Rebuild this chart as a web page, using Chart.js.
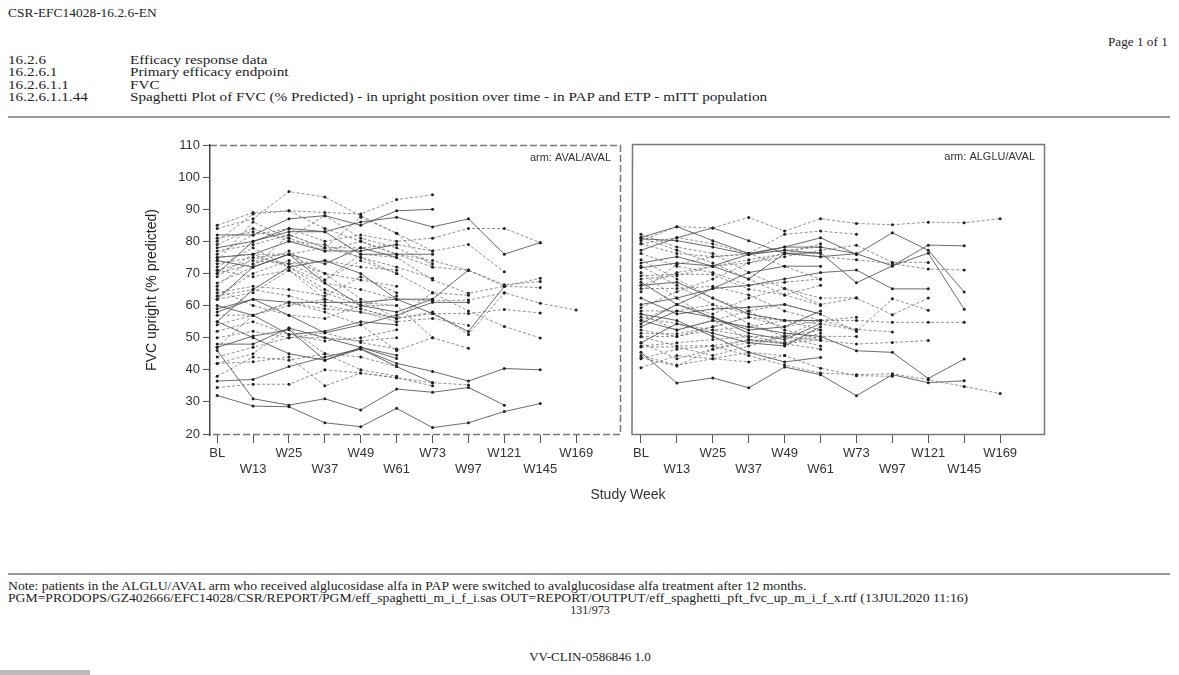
<!DOCTYPE html>
<html>
<head>
<meta charset="utf-8">
<script src="https://cdn.jsdelivr.net/npm/chart.js@4.4.1/dist/chart.umd.min.js"></script>
<style>
  body { margin: 0; background: #fff; width: 1179px; height: 675px; position: relative; overflow: hidden; }
  .t { position: absolute; font-family: "Liberation Serif", "Times New Roman", serif; font-size: 12px; color: #222; white-space: nowrap; transform-origin: left center; line-height: 12px; }
  .h { font-size: 13px; transform: scaleX(1.17); }
  .f { font-size: 12px; transform: scaleX(1.14); }
  .hr { position: absolute; left: 8px; width: 1162px; height: 2px; background: #999; }
  canvas { position: absolute; }
</style>
</head>
<body>
<div class="t" style="left:8px;top:7px;transform:scaleX(1.12)">CSR-EFC14028-16.2.6-EN</div>
<div class="t" style="left:1108px;top:36px;transform:scaleX(1.1)">Page 1 of 1</div>
<div class="t h" style="left:8px;top:54px">16.2.6</div>
<div class="t h" style="left:130px;top:54px">Efficacy response data</div>
<div class="t h" style="left:8px;top:66px">16.2.6.1</div>
<div class="t h" style="left:130px;top:66px">Primary efficacy endpoint</div>
<div class="t h" style="left:8px;top:79px">16.2.6.1.1</div>
<div class="t h" style="left:130px;top:79px">FVC</div>
<div class="t h" style="left:8px;top:91px">16.2.6.1.1.44</div>
<div class="t h" style="left:130px;top:91px">Spaghetti Plot of FVC (% Predicted) - in upright position over time - in PAP and ETP - mITT population</div>
<div class="hr" style="top:116px"></div>

<canvas id="leftChart" style="left:130px;top:130px" width="500" height="360"></canvas>
<canvas id="rightChart" style="left:625px;top:130px" width="430" height="360"></canvas>
<div style="position:absolute;left:578px;top:486px;width:100px;text-align:center;font-family:'Liberation Sans',Arial,sans-serif;font-size:14px;color:#333">Study Week</div>

<div class="hr" style="top:573px"></div>
<div class="t f" style="left:8px;top:580px">Note: patients in the ALGLU/AVAL arm who received alglucosidase alfa in PAP were switched to avalglucosidase alfa treatment after 12 months.</div>
<div class="t f" style="left:8px;top:592px">PGM=PRODOPS/GZ402666/EFC14028/CSR/REPORT/PGM/eff_spaghetti_m_i_f_i.sas OUT=REPORT/OUTPUT/eff_spaghetti_pft_fvc_up_m_i_f_x.rtf (13JUL2020 11:16)</div>
<div class="t" style="left:540px;top:604px;width:100px;text-align:center;font-size:12px">131/973</div>
<div class="t" style="left:490px;top:651px;width:200px;text-align:center;font-size:13px">VV-CLIN-0586846 1.0</div>
<div style="position:absolute;left:0;top:670px;width:90px;height:5px;background:#bbb"></div>

<script>
var weekLabels = ['BL', 'W13', 'W25', 'W37', 'W49', 'W61', 'W73', 'W97', 'W121', 'W145', 'W169'];
var yTicks = [20, 30, 40, 50, 60, 70, 80, 90, 100, 110];

// FVC upright (% predicted) per patient, one value per study week (null = no visit)
var avalAvalSeries = [
  [85, 89, 89.5, 84, 80, 76, 72],
  [78, 80, 83, 83, 86, 87.5, 84.5, 87, 76, 79.6],
  [76, 82, 84, 80, 82, 80, 81, 84, 84, 79.6],
  [75, 76, 76, 78, 87.5, 82.5, 72, 71, 66, 68.5],
  [36.5, 37, 41, 44, 46.5, 42, 39.5, 36.5, 40.4, 40],
  [74, 86, 81, 77, 80, 76, 74, 71, 66.5, 67.5],
  [73, 75, 73, 68, 76, 75, 68, 63.8, 66, 65.6],
  [32, 28.7, 28.5, 23.5, 22.3, 28, 22, 23.5, 27, 29.5],
  [72, 78, 72, 67, 65, 62, 61.5, 61.7, 64, 60.7, 58.6],
  [71, 69, 71, 62, 59, 56, 57.5, 57.5, 58.8, 57.7],
  [46, 31, 29, 31, 27.5, 34, 33, 34.5, 29],
  [70, 73, 77, 68, 74, 70, 64, 58.3, 53.5, 49.9],
  [77, 79, 82, 78, 78, 79, 77, 79, 70.5],
  [55, 65, 72, 74, 70, 62, 57.5, 51.9, 66],
  [84, 87, 95.5, 93.8, 88, 82.5, 77],
  [80, 88.5, 89.5, 89, 88.5, 93, 94.5],
  [82, 82, 87, 88, 85, 89.5, 90],
  [34.5, 35.5, 35.5, 40, 39, 37.5, 36, 35.3],
  [42, 42.5, 44, 35, 39, 37.5, 35],
  [47, 50.5, 52.5, 43, 46.5, 41, 36],
  [66, 75, 76, 70, 62, 56, 58, 51, 63.9],
  [63, 65, 63, 60, 58, 55, 56, 53.8],
  [62, 72, 76, 67, 60, 58, 62, 71.1],
  [69, 76, 72, 65, 61, 60, 50, 46.7],
  [57, 57, 60, 62, 59, 56, 64, 63.2],
  [59, 62, 57, 51.5, 54, 57, 61, 61],
  [54, 57, 61, 58, 54, 46, 50],
  [50, 52, 50, 50, 49, 50],
  [48, 48, 53, 50, 47, 44.5],
  [44, 47, 50, 51.5, 48.5, 46.5],
  [52, 55, 51, 49, 50, 52.5],
  [58, 62, 61, 61, 61, 62, 62],
  [64, 66, 65, 63, 69, 64],
  [67, 72, 82, 78, 75, 72, 68.5],
  [70, 80, 84, 83, 76, 76, 76],
  [79, 84, 80, 79, 75, 70],
  [81, 83, 81, 88, 81, 78, 73],
  [74, 72, 76, 73, 78, 75],
  [65, 60, 57, 56, 60, 63],
  [62, 64, 71, 64, 60, 60],
  [55, 50, 45, 43, 47, 43.5],
  [42, 45, 53, 45, 40, 38],
  [38, 44, 43, 45, 44, 41],
  [60, 57, 51, 52, 55, 54],
  [47, 57, 61, 59, 58, 56],
  [63, 70, 74, 70, 68, 66],
  [75, 76, 80, 77, 77, 79],
  [71, 74, 73, 74, 72, 71]
];

var alguAvalSeries = [
  [80, 84.4, 84, 87.3, 83, 86.9, 85.4, 85, 85.8, 85.6, 86.9],
  [81, 84.4, 80, 76, 78, 80.9, 75.7, 82.5, 77, 63.9],
  [66, 70, 72, 74, 76, 75, 74, 72.8, 71.1, 70.8],
  [68, 69, 72, 73, 75, 77, 78.6, 73.2, 73.2],
  [80.6, 80, 78, 75.7, 78, 78, 75.9, 72.1, 76.1, 58.5],
  [52, 50, 53, 56, 53, 55, 55, 54.4, 54.4, 54.4],
  [50, 50, 52, 53, 55, 55, 52.2, 51.4],
  [73, 75, 72, 68, 76, 76.2, 66.8, 72.1, 78.6, 78.4],
  [47, 48, 49, 50, 50, 48.7, 47.6, 48.1, 48.7],
  [43, 46, 47, 44, 41, 38.5, 38, 38.3, 36.4, 34.3, 32.1],
  [60, 62, 65, 66, 68, 70, 70.8, 64.9, 64.9],
  [44, 41, 43, 45, 44, 40, 37.7, 37.5],
  [57, 52, 55, 58, 60, 57, 51.5, 61.8, 58.2],
  [55, 52, 55, 53, 51, 50, 45.5, 45, 36.8, 42.9],
  [55, 60, 57, 62, 65, 60, 62, 56.8, 62],
  [82, 78, 76, 70, 65, 62, 62.1],
  [45, 35.4, 37, 33.9, 40.4, 38, 31.4, 38, 35.5, 36.1],
  [79, 76, 75, 76, 82, 83, 82],
  [76, 72, 70, 66, 67, 68],
  [71.5, 73, 72.1, 75.7, 77, 76],
  [69, 69.5, 69.4, 64.8, 63, 66],
  [65, 65, 65.7, 63, 58, 55, 56],
  [62, 57, 58.6, 59.1, 60, 57],
  [58, 58, 60, 57, 55, 54, 52],
  [56, 54, 52, 50, 48, 50, 50],
  [53, 58, 56, 51, 49, 54],
  [49.9, 47, 47.1, 48.9, 47.7, 49],
  [46.7, 46.7, 44, 47, 50, 52],
  [48, 54, 51, 48, 47, 53],
  [40.2, 44, 43, 42, 44],
  [43.3, 40.7, 46, 48, 50, 55],
  [77, 80.9, 84, 80, 76, 75, 75.9],
  [74, 68, 62, 58, 52, 49],
  [70, 62, 55, 49, 47.7, 46],
  [67, 60, 56, 52, 53, 58],
  [64, 72.6, 75, 75.7, 77, 78],
  [59, 64, 68, 73, 76, 79],
  [54, 60, 65, 70, 72, 72],
  [51, 50.8, 53, 56, 55, 52],
  [48, 43, 46, 49, 48, 51],
  [57, 55, 50, 45, 42, 43.4],
  [81, 77, 73, 68, 63, 59.7],
  [79, 81, 79, 76, 72, 67.9],
  [66, 67, 62, 57, 55, 55],
  [72, 66, 60, 54, 50, 47]
];

var sansFont = "'Liberation Sans', Arial, sans-serif";

function makeDatasets(series) {
  return series.map(function (vals, i) {
    var pts = [];
    vals.forEach(function (v, k) { if (v != null) pts.push({ x: k, y: v }); });
    var solid = i % 3 === 1;
    return {
      data: pts,
      borderColor: solid ? 'rgba(70,70,70,0.8)' : 'rgba(100,100,100,0.7)',
      borderWidth: 1,
      borderDash: solid ? [] : [3, 2],
      pointRadius: 1.5,
      pointBackgroundColor: '#222',
      pointBorderWidth: 0,
      tension: 0
    };
  });
}

var framePlugin = {
  id: 'frame',
  afterDatasetsDraw: function (chart, args, opts) {
    var ctx = chart.ctx, a = chart.chartArea;
    ctx.save();
    ctx.strokeStyle = opts.color;
    ctx.lineWidth = 1.5;
    ctx.setLineDash(opts.dash);
    ctx.beginPath();
    ctx.moveTo(a.left, a.top + 0.5);
    ctx.lineTo(a.right - 0.5, a.top + 0.5);
    ctx.lineTo(a.right - 0.5, a.bottom - 0.5);
    ctx.lineTo(a.left, a.bottom - 0.5);
    if (!opts.leftAxis) ctx.lineTo(a.left + 0.5, a.top + 0.5);
    ctx.stroke();
    ctx.setLineDash([]);
    ctx.fillStyle = '#333';
    ctx.font = '11px ' + sansFont;
    ctx.textAlign = 'right';
    ctx.textBaseline = 'middle';
    ctx.fillText(opts.label, a.right - 10, a.top + 13);
    ctx.restore();
  }
};

function xScale(min) {
  return {
    type: 'linear',
    min: min,
    max: 11.25,
    afterBuildTicks: function (s) { s.ticks = weekLabels.map(function (l, i) { return { value: i }; }); },
    afterFit: function (s) { s.height = 55; },
    grid: { drawOnChartArea: false, drawTicks: true, tickLength: 8, color: '#555' },
    border: { display: false },
    ticks: {
      autoSkip: false,
      maxRotation: 0,
      padding: 3,
      color: '#333',
      font: { family: sansFont, size: 13 },
      callback: function (v) {
        var l = weekLabels[v];
        return v % 2 === 0 ? [l, ''] : ['', l];
      }
    }
  };
}

function buildChart(id, series, opts) {
  return new Chart(document.getElementById(id), {
    type: 'line',
    data: { datasets: makeDatasets(series) },
    options: {
      responsive: false,
      animation: false,
      events: [],
      layout: { padding: opts.padding },
      plugins: {
        legend: { display: false },
        tooltip: { enabled: false },
        frame: { color: opts.frameColor, dash: opts.frameDash, leftAxis: opts.showY, label: opts.label }
      },
      scales: {
        x: xScale(opts.xMin),
        y: {
          type: 'linear',
          display: opts.showY,
          min: opts.yMin,
          max: opts.yMax,
          afterBuildTicks: function (s) { s.ticks = yTicks.map(function (v) { return { value: v }; }); },
          afterFit: function (s) { s.width = opts.showY ? 66 : 0; },
          grid: { drawOnChartArea: false, drawTicks: true, tickLength: 7, color: '#555' },
          border: { display: true, color: '#444', width: 1.5 },
          ticks: { padding: 3, color: '#333', font: { family: sansFont, size: 13 } },
          title: {
            display: true,
            text: 'FVC upright (% predicted)',
            color: '#222',
            font: { family: sansFont, size: 14 },
            padding: 0
          }
        }
      }
    },
    plugins: [framePlugin]
  });
}

buildChart('leftChart', avalAvalSeries, {
  padding: { left: 14, right: 9, top: 15, bottom: 0 },
  xMin: -0.2, yMin: 19.7, yMax: 110, showY: true,
  frameColor: '#777', frameDash: [7, 3], label: 'arm: AVAL/AVAL'
});

buildChart('rightChart', alguAvalSeries, {
  padding: { left: 7, right: 10, top: 14, bottom: 0 },
  xMin: -0.25, yMin: 19.1, yMax: 110.3, showY: false,
  frameColor: '#777', frameDash: [], label: 'arm: ALGLU/AVAL'
});
</script>
</body>
</html>
